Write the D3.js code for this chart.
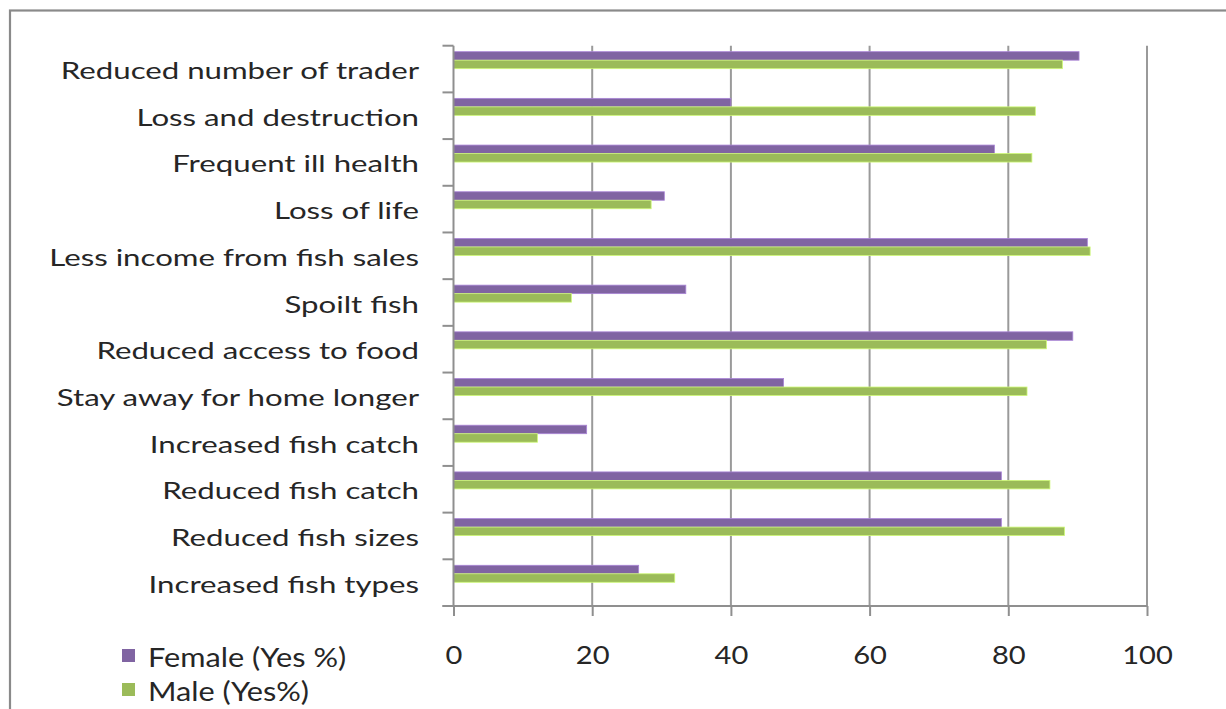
<!DOCTYPE html>
<html>
<head>
<meta charset="utf-8">
<script src="https://cdn.jsdelivr.net/npm/d3@7"></script>
<style>
  html, body { margin: 0; padding: 0; background: #fff; }
  svg { display: block; }
  text { font-family: Lato, "Open Sans", sans-serif; fill: #262626; }
</style>
</head>
<body>
<svg id="chart" width="1226" height="709"></svg>
<script>
// Impacts reported, top to bottom
const categories = [
  "Reduced number of trader",
  "Loss and destruction",
  "Frequent ill health",
  "Loss of life",
  "Less income from fish sales",
  "Spoilt fish",
  "Reduced access to food",
  "Stay away for home longer",
  "Increased fish catch",
  "Reduced fish catch",
  "Reduced fish sizes",
  "Increased fish types"
];
const femaleYes = [90.2, 40.0, 78.0, 30.4, 91.4, 33.5, 89.3, 47.6, 19.2, 79.0, 79.0, 26.7];
const maleYes   = [87.8, 83.9, 83.4, 28.5, 91.8, 17.0, 85.5, 82.7, 12.1, 86.0, 88.1, 31.9];
const seriesNames = ["Female (Yes %)", "Male (Yes%)"];
const seriesColors = ["#8064a2", "#9bbb59"];
const xTicks = [0, 20, 40, 60, 80, 100];

const svg = d3.select("#chart");
const plot = { left: 453.5, right: 1147, top: 45.7, bottom: 606 };

// outer chart frame (extends past the right/bottom edges of the page)
svg.append("rect")
  .attr("x", 10).attr("y", 10.5).attr("width", 1260).attr("height", 760)
  .attr("fill", "none").attr("stroke", "#8a8a8a").attr("stroke-width", 2.2);

const x = d3.scaleLinear().domain([0, 100]).range([plot.left, plot.right]);
const y = d3.scaleBand().domain(categories).range([plot.top, plot.bottom]).padding(0);
const bw = y.bandwidth();
// the two bars sit in the upper half of each band
const sub = d3.scaleBand().domain([0, 1]).range([bw * 0.128, bw * 0.492]).padding(0);

// vertical gridlines
svg.append("g").selectAll("line")
  .data(xTicks.filter(t => t > 0))
  .join("line")
  .attr("x1", d => x(d)).attr("x2", d => x(d))
  .attr("y1", plot.top).attr("y2", plot.bottom)
  .attr("stroke", "#9a9a9a").attr("stroke-width", 2);

// bars
const rows = categories.map((c, i) => ({ c, vals: [femaleYes[i], maleYes[i]] }));
const rowG = svg.append("g").selectAll("g")
  .data(rows).join("g")
  .attr("transform", d => `translate(0,${y(d.c)})`);
rowG.selectAll("rect")
  .data(d => d.vals.map((v, k) => ({ v, k })))
  .join("rect")
  .attr("x", x(0))
  .attr("y", d => sub(d.k))
  .attr("width", d => x(d.v) - x(0))
  .attr("height", sub.bandwidth())
  .attr("fill", d => seriesColors[d.k])
  .attr("stroke", d => d3.color(seriesColors[d.k]).brighter(0.8))
  .attr("stroke-width", 0.8);

// y axis with outward ticks at band boundaries
const yAxisG = svg.append("g");
yAxisG.append("line")
  .attr("x1", plot.left).attr("x2", plot.left)
  .attr("y1", plot.top).attr("y2", plot.bottom)
  .attr("stroke", "#8f8f8f").attr("stroke-width", 2);
const bounds = categories.map(c => y(c)).concat([plot.bottom]);
yAxisG.selectAll("line.tick")
  .data(bounds).join("line").attr("class", "tick")
  .attr("x1", plot.left - 11).attr("x2", plot.left)
  .attr("y1", d => d).attr("y2", d => d)
  .attr("stroke", "#8f8f8f").attr("stroke-width", 2);

// x axis
const xAxis = d3.axisBottom(x).tickValues(xTicks).tickSize(10).tickFormat(d3.format("d"));
const xAxisG = svg.append("g").attr("transform", `translate(0,${plot.bottom})`).call(xAxis);
xAxisG.select(".domain").attr("stroke", "#8f8f8f").attr("stroke-width", 2)
  .attr("d", `M${plot.left - 11},0H${plot.right}`);
xAxisG.selectAll(".tick line").attr("stroke", "#8f8f8f").attr("stroke-width", 2);
xAxisG.selectAll(".tick text")
  .attr("font-family", "Lato, 'Open Sans', sans-serif")
  .attr("font-size", 26).attr("fill", "#262626")
  .attr("dy", null).attr("y", 58)
  .attr("transform", "scale(1.12,1)");

// category labels
const labelG = svg.append("g");
const labels = labelG.selectAll("text")
  .data(categories).join("text")
  .attr("text-anchor", "end")
  .attr("font-size", 22.5)
  .text(d => d);
// stretch labels horizontally so the longest spans its column
const maxW = d3.max(labels.nodes(), n => n.getComputedTextLength());
const sx = 370 / maxW;
labels.attr("transform", d => `translate(419,${y(d) + bw / 2 + 10}) scale(${sx},1)`);

// legend
const legend = svg.append("g");
seriesNames.forEach((name, k) => {
  const gy = 649 + k * 34;
  legend.append("rect")
    .attr("x", 122).attr("y", gy).attr("width", 13).attr("height", 13)
    .attr("fill", seriesColors[k]);
  legend.append("text")
    .attr("transform", `translate(148,${gy + 18}) scale(1.18,1)`)
    .attr("font-size", 26)
    .text(name);
});
</script>
</body>
</html>
